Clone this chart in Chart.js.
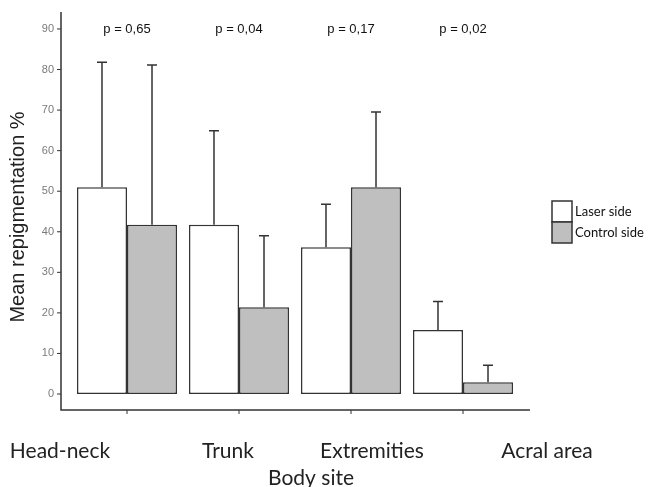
<!DOCTYPE html>
<html>
<head>
<meta charset="utf-8">
<script src="https://cdn.jsdelivr.net/npm/chart.js@4"></script>
<style>
  html, body { margin: 0; padding: 0; background: #fff; }
  #wrap { width: 652px; height: 487px; position: relative; }
</style>
</head>
<body>
<div id="wrap"><canvas id="myChart" width="652" height="487"></canvas></div>
<script>
// body sites
let categories = ['Head-neck', 'Trunk', 'Extremities', 'Acral area']
let laserMean = [51.0, 41.7, 36.2, 15.8]
let laserUpper = [81.8, 64.9, 46.8, 22.8]
let controlMean = [41.7, 21.4, 51.0, 2.9]
let controlUpper = [81.1, 39.0, 69.5, 7.1]
let pValues = ['p = 0,65', 'p = 0,04', 'p = 0,17', 'p = 0,02']
let yTicks = [0, 10, 20, 30, 40, 50, 60, 70, 80, 90]
// where the category labels sit under the axis (they are not centred on the groups)
let labelX = [60, 228, 372, 547]

const AXIS = '#333333'

let errorBars = {
    id: 'errorBars',
    afterDatasetsDraw(chart) {
        let ctx = chart.ctx
        let y = chart.scales.y
        let uppers = [laserUpper, controlUpper]
        ctx.save()
        ctx.strokeStyle = AXIS
        ctx.lineWidth = 1.5
        uppers.forEach((up, d) => {
            chart.getDatasetMeta(d).data.forEach((bar, i) => {
                let top = y.getPixelForValue(up[i])
                ctx.beginPath()
                ctx.moveTo(bar.x, bar.y)
                ctx.lineTo(bar.x, top)
                ctx.moveTo(bar.x - 5, top)
                ctx.lineTo(bar.x + 5, top)
                ctx.stroke()
            })
        })
        ctx.restore()
    }
}

let axesAndText = {
    id: 'axesAndText',
    afterDraw(chart) {
        let ctx = chart.ctx
        let x = chart.scales.x
        let y = chart.scales.y
        let area = chart.chartArea
        let left = area.left - 10
        let right = area.right + 11
        ctx.save()

        // axis lines
        ctx.strokeStyle = AXIS
        ctx.lineWidth = 1.5
        ctx.beginPath()
        ctx.moveTo(left, area.top)
        ctx.lineTo(left, area.bottom)
        ctx.lineTo(right, area.bottom)
        ctx.stroke()

        // y ticks
        ctx.font = '11px "Liberation Sans", Arial, sans-serif'
        ctx.fillStyle = '#7a7a7a'
        ctx.textAlign = 'right'
        ctx.textBaseline = 'middle'
        ctx.lineWidth = 1
        yTicks.forEach((t) => {
            let py = y.getPixelForValue(t)
            ctx.beginPath()
            ctx.moveTo(left - 4, py)
            ctx.lineTo(left, py)
            ctx.stroke()
            ctx.fillText(String(t), left - 7, py)
        })

        // x ticks + p values
        ctx.font = '13px "Liberation Sans", Arial, sans-serif'
        ctx.fillStyle = '#111'
        ctx.textAlign = 'center'
        categories.forEach((c, i) => {
            let px = x.getPixelForValue(i)
            ctx.beginPath()
            ctx.moveTo(px, area.bottom)
            ctx.lineTo(px, area.bottom + 4)
            ctx.stroke()
            ctx.fillText(pValues[i], px, y.getPixelForValue(90))
        })

        // category labels
        ctx.font = '21px Lato, "Open Sans", sans-serif'
        ctx.fillStyle = '#222'
        ctx.textBaseline = 'alphabetic'
        categories.forEach((c, i) => {
            ctx.fillText(c, labelX[i], 458)
        })
        ctx.fillText('Body site', 311, 485)

        // y title
        ctx.font = '20px "Liberation Sans", Arial, sans-serif'
        ctx.translate(18, 217)
        ctx.rotate(-Math.PI / 2)
        ctx.textBaseline = 'middle'
        ctx.fillText('Mean repigmentation %', 0, 0)
        ctx.restore()

        // legend
        ctx.save()
        let names = chart.data.datasets.map((d) => d.label)
        let fills = chart.data.datasets.map((d) => d.backgroundColor)
        ctx.font = '13px Lato, "Open Sans", sans-serif'
        ctx.textAlign = 'left'
        ctx.textBaseline = 'middle'
        names.forEach((n, i) => {
            let by = 201 + i * 21
            ctx.fillStyle = fills[i]
            ctx.fillRect(552, by, 20, 21)
            ctx.strokeStyle = AXIS
            ctx.lineWidth = 1.5
            ctx.strokeRect(552, by, 20, 21)
            ctx.fillStyle = '#111'
            ctx.fillText(n, 575, by + 11)
        })
        ctx.restore()
    }
}

let data = {
    labels: categories,
    datasets: [{
        label: 'Laser side',
        data: laserMean,
        backgroundColor: '#ffffff',
        borderColor: AXIS,
        borderWidth: 1.5,
        borderSkipped: false
    }, {
        label: 'Control side',
        data: controlMean,
        backgroundColor: '#bfbfbf',
        borderColor: AXIS,
        borderWidth: 1.5,
        borderSkipped: false
    }]
}

let config = {
    type: 'bar',
    data: data,
    options: {
        responsive: false,
        animation: false,
        events: [],
        layout: {
            padding: { left: 71, right: 133, top: 12, bottom: 77 }
        },
        datasets: {
            bar: {
                categoryPercentage: 0.893,
                barPercentage: 1
            }
        },
        scales: {
            x: { display: false },
            y: { display: false, min: -3.94, max: 94.18 }
        },
        plugins: {
            legend: { display: false },
            tooltip: { enabled: false }
        }
    },
    plugins: [errorBars, axesAndText]
}

let mychart = new Chart(document.getElementById('myChart'), config)
</script>
</body>
</html>
